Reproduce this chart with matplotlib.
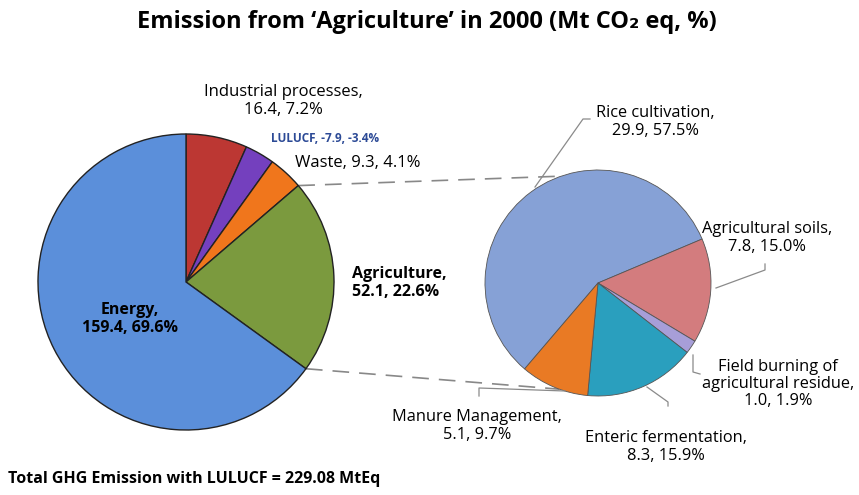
import numpy as np
import matplotlib.pyplot as plt

plt.rcParams['font.family'] = ['Open Sans', 'DejaVu Sans']

# Main pie (Mt CO2 eq), clockwise from 12 o'clock
main_names = ["Industrial processes", "LULUCF", "Waste", "Agriculture", "Energy"]
main_values = [16.4, -7.9, 9.3, 52.1, 159.4]
main_pct = [7.2, -3.4, 4.1, 22.6, 69.6]
main_colors = ["#BC3733", "#7440BE", "#F0761C", "#7B9A3E", "#5B8FDA"]

# Breakdown of agriculture
agri_names = ["Rice cultivation", "Agricultural soils",
              "Field burning of\nagricultural residue",
              "Enteric fermentation", "Manure Management"]
agri_values = [29.9, 7.8, 1.0, 8.3, 5.1]
agri_pct = [57.5, 15.0, 1.9, 15.9, 9.7]
agri_colors = ["#86A1D6", "#D37C7E", "#A79ED8", "#2A9FBE", "#E97A24"]

total = 229.08

W, H = 859, 495
fig = plt.figure(figsize=(W / 100, H / 100), dpi=100)
ax = fig.add_axes([0, 0, 1, 1])


def Y(y):
    # reference pixel row -> data y
    return H - y


c1, r1 = (186, Y(282)), 148
c2, r2 = (598, Y(283)), 113

w1, _ = ax.pie(np.abs(main_values), colors=main_colors, startangle=90,
               counterclock=False, center=c1, radius=r1, frame=True,
               wedgeprops=dict(edgecolor="#222222", linewidth=1.0))
w2, _ = ax.pie(agri_values, colors=agri_colors, startangle=229.5,
               counterclock=False, center=c2, radius=r2, frame=True,
               wedgeprops=dict(edgecolor="#555555", linewidth=0.6))
ax.set_xlim(0, W)
ax.set_ylim(0, H)
ax.set_aspect('equal')
ax.axis('off')

# dashed connectors from agriculture wedge edges to the second pie
ag = w1[3]
for ang, ang2 in [(ag.theta2, 109), (ag.theta1, 250)]:
    p0 = (c1[0] + r1 * np.cos(np.radians(ang)), c1[1] + r1 * np.sin(np.radians(ang)))
    p1 = (c2[0] + r2 * np.cos(np.radians(ang2)), c2[1] + r2 * np.sin(np.radians(ang2)))
    ax.plot([p0[0], p1[0]], [p0[1], p1[1]], color="#888888", lw=1.2,
            ls=(0, (10, 6)), zorder=0)

ax.text(427, Y(22), "Emission from \u2018Agriculture\u2019 in 2000 (Mt CO\u2082 eq, %)",
        ha='center', va='center', fontsize=17, fontweight='bold')

fs = 12
ax.text(283, Y(101), f"{main_names[0]},\n{main_values[0]}, {main_pct[0]}%",
        ha='center', va='center', fontsize=fs, linespacing=1.1)
ax.text(325, Y(138), f"{main_names[1]}, {main_values[1]}, {main_pct[1]}%",
        ha='center', va='center', fontsize=8.5, fontweight='bold', color="#2C4A96")
ax.text(295, Y(163), f"{main_names[2]}, {main_values[2]}, {main_pct[2]}%",
        ha='left', va='center', fontsize=fs)
ax.text(352, Y(283), f"{main_names[3]},\n{main_values[3]}, {main_pct[3]}%",
        ha='left', va='center', fontsize=11.5, fontweight='bold', linespacing=1.15)
ax.text(130, Y(319), f"{main_names[4]},\n{main_values[4]}, {main_pct[4]}%",
        ha='center', va='center', fontsize=11.5, fontweight='bold', linespacing=1.15)

fs2 = 11.8
lbl = [f"{n},\n{v}, {p}%" for n, v, p in zip(agri_names, agri_values, agri_pct)]
ax.text(655, Y(122), lbl[0], ha='center', va='center', fontsize=fs2, linespacing=1.1)
ax.text(767, Y(238), lbl[1], ha='center', va='center', fontsize=fs2, linespacing=1.1)
ax.text(778, Y(384), lbl[2], ha='center', va='center', fontsize=fs2, linespacing=1.1)
ax.text(666, Y(447), lbl[3], ha='center', va='center', fontsize=fs2, linespacing=1.1)
ax.text(477, Y(426), lbl[4], ha='center', va='center', fontsize=fs2, linespacing=1.1)

# leader lines
lc = "#8a8a8a"
leaders = [
    [(535, 187), (583, 119), (590, 119)],
    [(716, 288), (765, 270), (765, 264)],
    [(693, 355), (693, 372), (700, 374)],
    [(647, 387), (668, 402), (668, 406)],
    [(565, 391), (479, 388), (479, 396)],
]
for pts in leaders:
    xs = [p[0] for p in pts]
    ys = [Y(p[1]) for p in pts]
    ax.plot(xs, ys, color=lc, lw=0.9)

ax.text(8, Y(479), f"Total GHG Emission with LULUCF = {total} MtEq",
        ha='left', va='center', fontsize=11.5, fontweight='bold')

fig.savefig("out.png", dpi=100)
